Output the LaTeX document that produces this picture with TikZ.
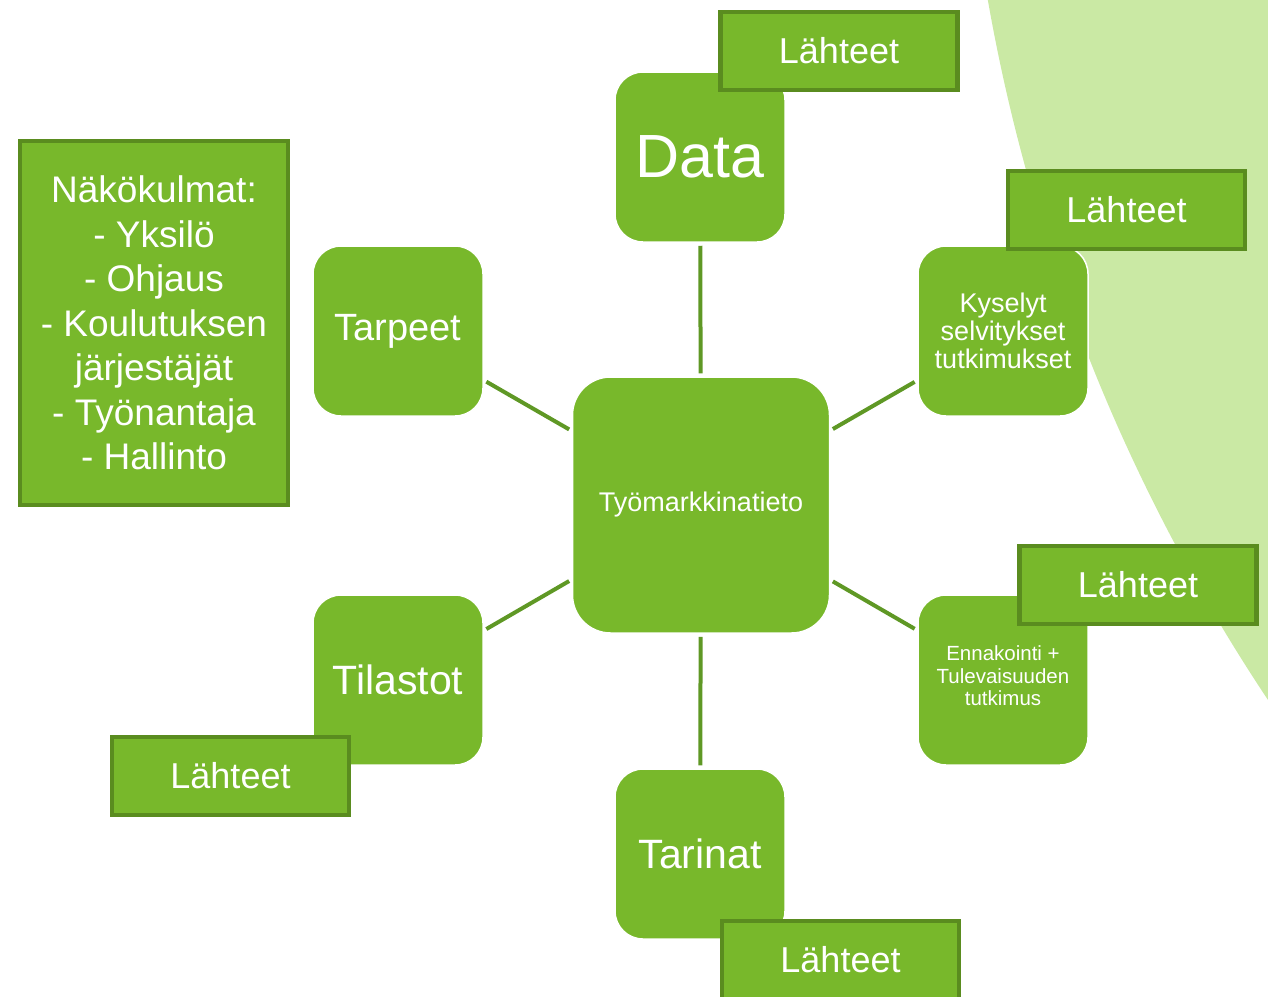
\documentclass[tikz,border=0pt]{standalone}
\usepackage{fontspec}
\setmainfont{Liberation Sans}
\definecolor{boxgreen}{HTML}{78B82B}
\definecolor{edgegreen}{HTML}{5A8C1F}
\definecolor{linegreen}{HTML}{5F9825}
\definecolor{paleGreen}{HTML}{CAE9A4}
\begin{document}
\begin{tikzpicture}[x=1pt,y=-1pt,
  roundbox/.style={fill=boxgreen,draw=white,line width=1.5pt,rounded corners=28pt,
    minimum width=170pt,minimum height=170pt,inner sep=2pt,text=white,align=center},
  centerbox/.style={roundbox,rounded corners=38pt,minimum width=257pt,minimum height=256pt},
  srcbox/.style={fill=boxgreen,draw=edgegreen,line width=4.5pt,minimum width=237pt,
    minimum height=78pt,inner sep=0pt,text=white,font=\fontsize{36}{40}\selectfont},
  conn/.style={draw=linegreen,line width=4pt,shorten <=3pt,shorten >=3pt}]
\useasboundingbox (0,0) rectangle (1268,996);
\clip (0,0) rectangle (1268,996);
% pale background arc
\fill[paleGreen] (2805,-321) circle[radius=1845];
% nodes
\node[centerbox,font=\fontsize{27}{30}\selectfont] (c) at (701,505) {Työmarkkinatieto};
\node[roundbox,font=\fontsize{61}{66}\selectfont] (data) at (700,157) {Data};
\node[roundbox,font=\fontsize{38}{42}\selectfont] (tarpeet) at (398,331) {Tarpeet};
\node[roundbox,font=\fontsize{27}{28}\selectfont] (kys) at (1003,331) {Kyselyt\\selvitykset\\tutkimukset};
\node[roundbox,font=\fontsize{41}{45}\selectfont] (tilastot) at (398,680) {Tilastot};
\node[roundbox,minimum height=170pt] (enn) at (1003,680) {};
\node[text=white,align=center,font=\fontsize{20.5}{22.5}\selectfont,inner sep=0pt] (enntxt) at (1003,676) {Ennakointi +\\Tulevaisuuden\\tutkimus};
\node[roundbox,font=\fontsize{41}{45}\selectfont] (tarinat) at (700,854) {Tarinat};
% connectors
\draw[conn] (c) -- (data);
\draw[conn] (c) -- (tarpeet);
\draw[conn] (c) -- (kys);
\draw[conn] (c) -- (tilastot);
\draw[conn] (c) -- (enn);
\draw[conn] (c) -- (tarinat);
% source boxes
\node[srcbox] (l1) at (839,51) {Lähteet};
\node[srcbox] (l2) at (1126.5,210) {Lähteet};
\node[srcbox] (l3) at (1138,585) {Lähteet};
\node[srcbox] (l4) at (230.5,776) {Lähteet};
\node[srcbox] (l5) at (840.5,960) {Lähteet};
% perspectives box
\node[fill=boxgreen,draw=edgegreen,line width=4.5pt,minimum width=268pt,minimum height=364pt,
  text=white,align=center,inner sep=0pt,font=\fontsize{37}{44.5}\selectfont] (nako) at (154,323)
  {Näkökulmat:\\- Yksilö\\- Ohjaus\\- Koulutuksen\\järjestäjät\\- Työnantaja\\- Hallinto};
\end{tikzpicture}
\end{document}
